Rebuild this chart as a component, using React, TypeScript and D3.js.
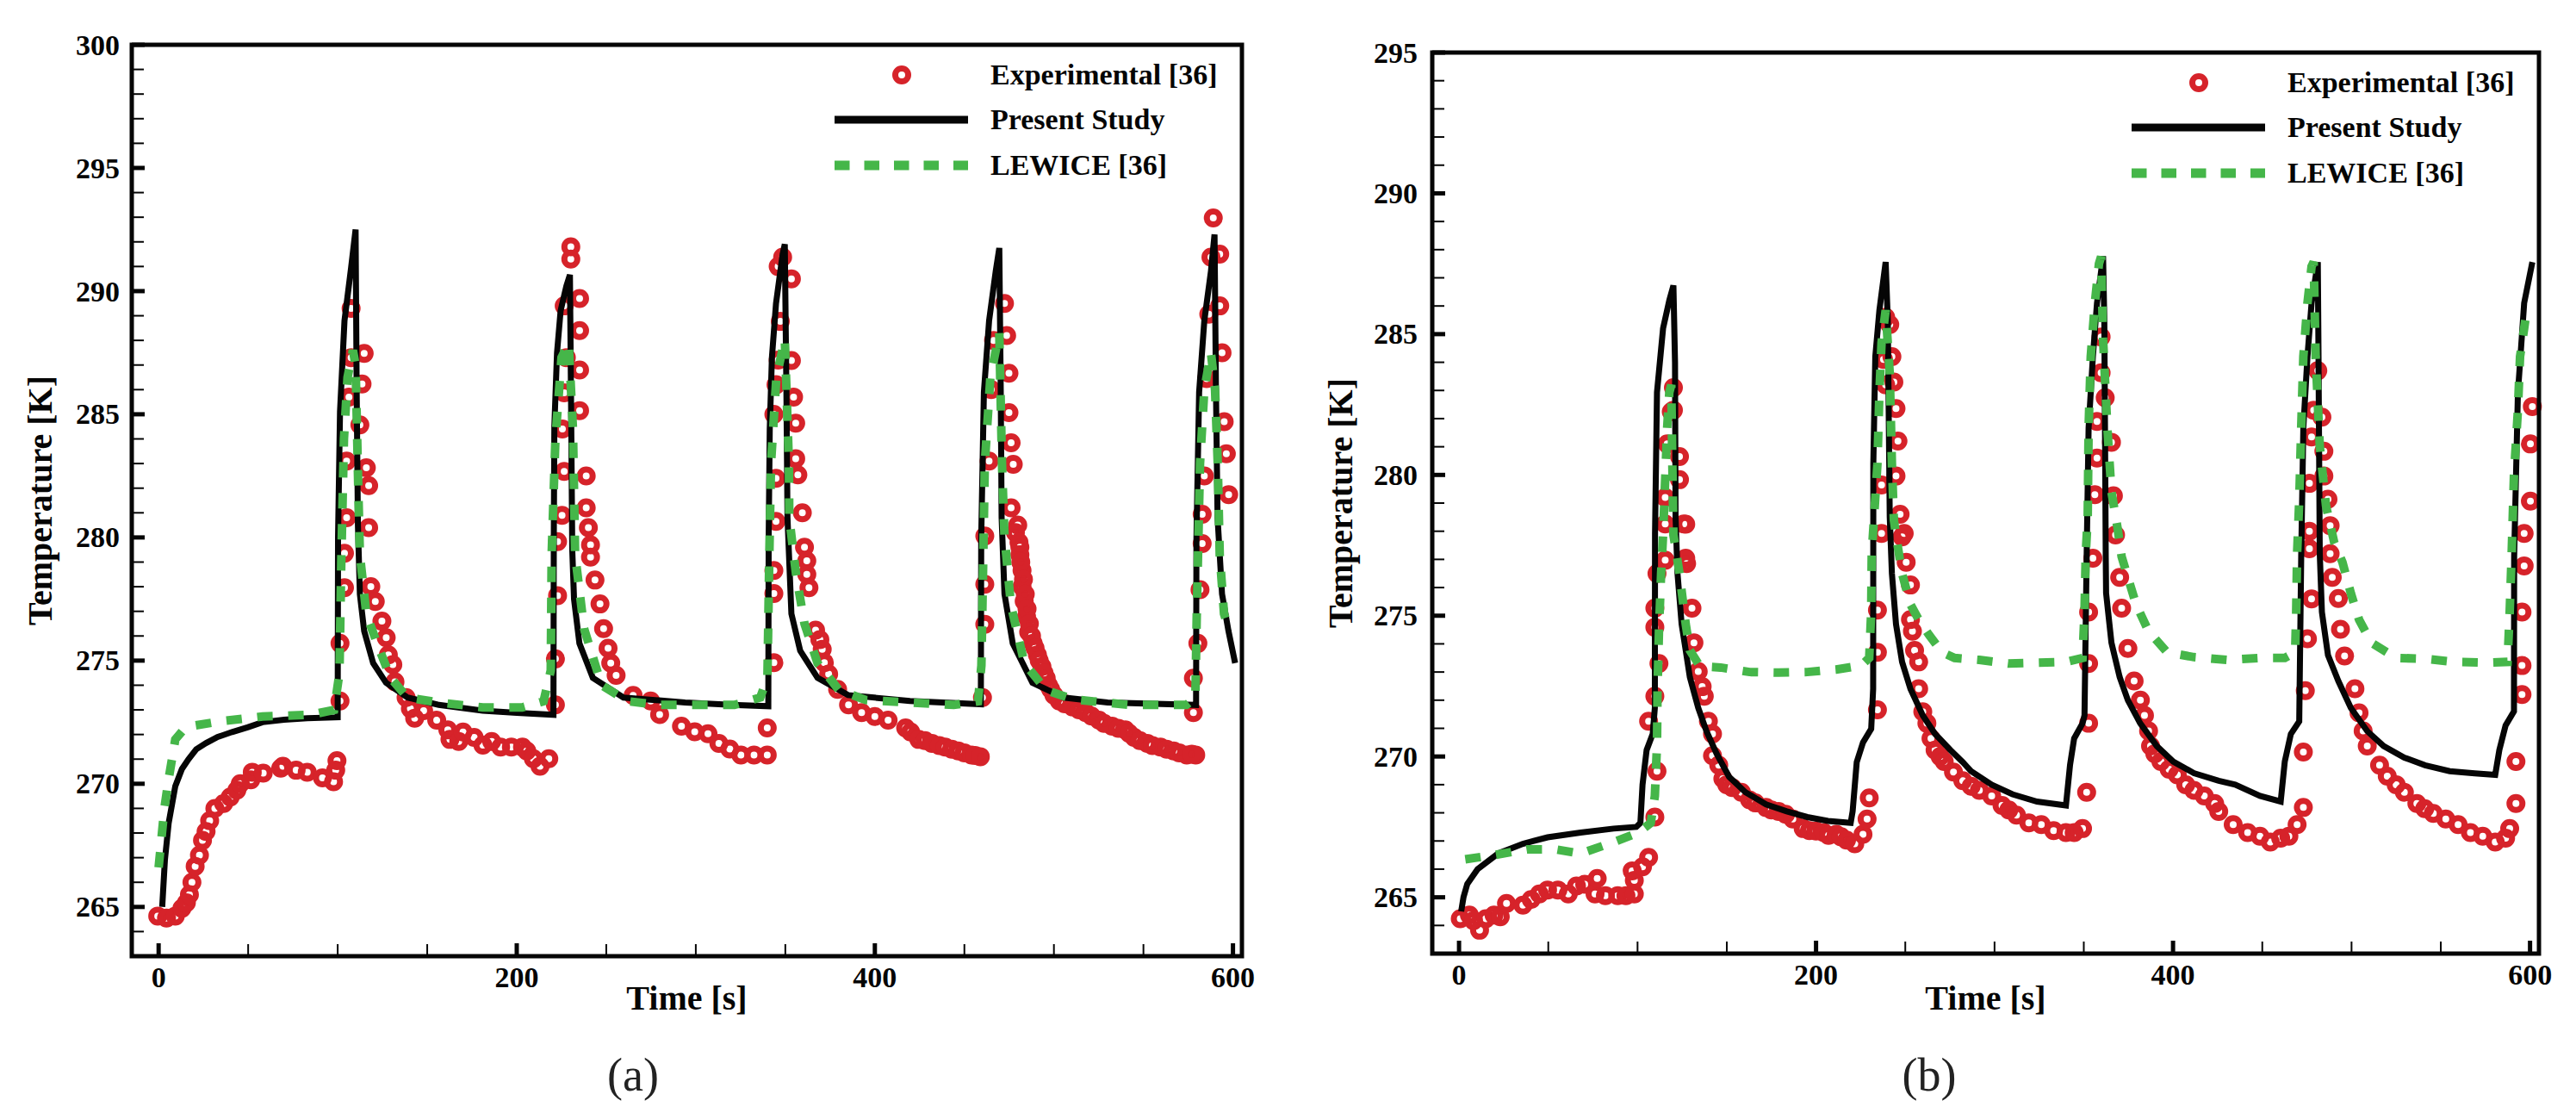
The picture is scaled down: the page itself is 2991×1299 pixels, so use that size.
import { useEffect, useRef } from 'react';
import * as d3 from 'd3';

type Pt = [number, number];

// ---- panel (a) ----
const presentA: Pt[] = [
  [2, 265.0], [3.5, 266.9], [5.6, 268.4], [9.3, 269.9], [13, 270.6], [16.7, 271.0], [21, 271.4], [26.5, 271.65],
  [33, 271.9], [41, 272.1], [50, 272.3], [58, 272.5], [70, 272.6], [83, 272.66], [100, 272.7],
  [100.2, 280.0], [101.3, 285.1], [103.8, 288.8], [107.5, 290.95], [110, 292.5], [110.6, 286], [111.3, 280.5],
  [112.4, 277.7], [114.8, 276.2], [119.8, 274.9], [127, 274.1], [139, 273.5], [156.5, 273.2], [181, 272.97],
  [200, 272.88], [220.5, 272.8],
  [220.7, 280], [221, 284.5], [222.5, 287.5], [224.5, 289.2], [227.7, 290.2], [229.7, 290.66], [230.4, 285],
  [231, 279.5], [232, 277.5], [235, 275.7], [242.5, 274.3], [259.6, 273.5], [294, 273.3], [320, 273.2], [340.5, 273.15],
  [340.7, 280], [341.3, 284.4], [342.5, 287.3], [344.8, 289.5], [348.5, 291.5], [349.7, 291.9], [350.6, 286],
  [351.2, 280.8], [353.4, 276.9], [358.3, 275.4], [368, 274.3], [385, 273.6], [419.6, 273.36], [459.2, 273.23],
  [459.4, 280], [460.9, 285.9], [463.8, 288.8], [467.5, 290.8], [469.5, 291.75], [470.3, 286], [470.8, 280.8],
  [472.4, 277.7], [477, 275.7], [488, 274.1], [505.5, 273.5], [530, 273.3], [579.4, 273.2],
  [579.6, 280], [581.1, 285.9], [584, 288.8], [587.7, 290.8], [589.7, 292.3], [590.5, 286], [591.4, 280.8],
  [593.9, 277.7], [597.5, 276.2], [601.2, 274.9],
];

const lewiceA: Pt[] = [
  [0, 266.6], [3.2, 269.0], [5.6, 270.2], [9.3, 271.8], [14, 272.2], [19, 272.35], [36, 272.55], [58, 272.73],
  [85, 272.8], [98, 273.0], [101, 274.5], [102, 279], [103.5, 284], [105.5, 286.5], [108.5, 287.6], [110, 287],
  [111.5, 282], [112.4, 279.3], [116, 276.9], [122, 275.7], [129.5, 274.3], [139, 273.5], [156.5, 273.3],
  [181, 273.1], [203, 273.1], [215, 273.35], [219, 274.6], [219.5, 279.3], [221.6, 284], [225, 287.3], [229, 287.9],
  [231.4, 284.4], [232.6, 279.3], [237.6, 276.3], [247.4, 274], [262, 273.35], [279, 273.2], [297, 273.2],
  [321.5, 273.2], [336, 273.5], [340, 274.3], [341, 279], [342, 283], [345, 286.5], [349.7, 288.05], [352, 283],
  [352.2, 280.8], [356, 278.5], [360.7, 276.5], [368, 274.9], [380, 273.8], [395, 273.4], [419.6, 273.3],
  [444, 273.2], [457.6, 273.35], [459.5, 274.8], [460.5, 279], [461.4, 283], [464.5, 286.5], [469.5, 288.3],
  [471, 283], [472.4, 280.06], [476, 277.25], [483.5, 274.9], [495.7, 273.8], [510.5, 273.43], [542, 273.2],
  [574, 273.2], [579, 273.5], [579.8, 277], [581.6, 283], [584, 286], [587.7, 287.5], [590, 286], [591.5, 283],
  [592.6, 279.3], [595, 276.9], [596.8, 276.5],
];

const expA: Pt[] = [
  // cycle 1
  [-0.5, 264.63], [4.4, 264.55], [9.3, 264.63], [13, 264.94], [15.5, 265.17], [17.2, 265.5], [18.6, 266.0],
  [20.4, 266.65], [22.8, 267.1], [24.5, 267.7], [26.5, 268.06], [28.5, 268.5], [31.4, 269.0], [36.3, 269.2],
  [40, 269.46], [43.7, 269.74], [45.6, 270.0], [51.5, 270.16], [52.3, 270.47], [58.4, 270.43], [68.2, 270.63],
  [69.4, 270.71], [76.8, 270.55], [83, 270.47], [91.5, 270.24], [97.7, 270.08], [98.9, 270.55], [99.6, 270.94],
  [101.3, 273.36], [101.3, 275.7], [103.8, 277.96], [103.8, 279.36], [105, 280.8], [105, 283.1], [106.3, 285.7],
  [107.5, 287.3], [107.5, 289.3],
  [114.8, 287.47], [113.6, 286.23], [112.4, 284.57], [116, 282.83], [117.3, 282.1], [117.3, 280.4], [118.5, 278.0],
  [121, 277.4], [124.7, 276.6], [127.1, 275.93], [128.3, 275.23], [130.8, 274.84], [132, 274.14], [138.2, 273.5],
  [140.6, 273.05], [143, 272.66], [148, 272.97], [155.3, 272.58], [161.5, 272.19], [162.7, 271.8], [167.6, 271.72],
  [170, 272.1], [176.2, 271.88], [181.1, 271.57], [186, 271.72], [191, 271.49], [197, 271.49], [203.2, 271.49],
  [205.6, 271.33], [209.3, 271.02], [213, 270.71], [217.9, 271.02],
  // cycle 2
  [221.6, 273.2], [221.6, 275.07], [222.8, 277.64], [222.8, 279.83], [225.3, 280.9], [226.5, 282.68],
  [225.5, 284.4], [226.5, 285.87], [227.7, 287.3], [226.5, 289.4],
  [230.2, 291.8], [230.2, 291.3], [235.1, 289.7], [235.1, 288.4], [235.1, 286.8], [235.1, 285.15], [238.8, 282.5],
  [238.8, 281.2], [240, 280.4], [241.2, 279.7], [241.2, 279.2], [243.7, 278.27], [246.5, 277.3], [248.5, 276.3],
  [251, 275.5], [252.5, 274.9], [255.5, 274.4], [265, 273.59], [274.8, 273.36], [279.8, 272.81], [292, 272.34],
  [299.4, 272.11], [306.8, 272.03], [312.9, 271.64], [319, 271.41], [325.2, 271.17], [332.5, 271.17],
  [339.9, 271.17], [339.9, 272.27],
  // cycle 3
  [343.6, 274.92], [343.6, 277.72], [343.6, 278.66], [344.8, 280.65], [344.8, 282.4], [343.6, 285.0],
  [344.8, 286.2], [346, 287.2], [347.2, 288.77], [346, 291.0], [348.5, 291.38],
  [353.4, 290.5], [353.4, 287.18], [354.6, 285.7], [355.8, 284.64], [355.8, 283.2], [357, 282.54], [359.5, 281.0],
  [360.7, 279.6], [362, 279.05], [362, 278.5], [363.2, 277.96], [366.9, 276.24], [369.3, 275.85], [370.6, 275.46],
  [371.8, 274.92], [374.2, 274.45], [379.2, 273.83], [385.3, 273.2], [392.6, 272.89], [400, 272.73],
  [407.4, 272.58], [417.2, 272.27], [420, 272.1], [424.5, 271.8], [428, 271.75], [431.9, 271.64], [436, 271.55],
  [439.3, 271.49], [443, 271.4], [446.6, 271.33], [450, 271.25], [454, 271.17], [456, 271.15], [458.9, 271.1],
  // cycle 4
  [460.1, 273.5], [461.4, 276.47], [461.4, 278.1], [461.4, 280.06], [463.8, 283.1], [465, 286.0], [466.3, 288.0],
  [472.4, 289.5], [473.6, 288.2], [474.9, 286.67], [474.9, 285.07], [476.1, 283.84], [477.3, 282.97],
  [476.1, 281.2], [479.8, 280.5], [481, 279.6], [478.5, 280.2], [481, 279.3], [482.2, 278.66], [482.2, 278.0],
  [483.4, 277.41], [484.7, 276.79], [485.9, 276.16], [488.4, 275.7], [490.8, 275.23], [493.3, 274.76],
  [495.7, 274.29], [498.2, 273.83], [503, 273.36], [510.4, 273.12], [517.8, 272.89], [525.2, 272.58],
  [532.5, 272.34], [539.9, 272.19], [544.8, 271.88], [552.2, 271.64], [559.5, 271.49], [566.9, 271.33],
  [574.2, 271.17], [579.2, 271.17],
  [480.5, 279.8], [481.5, 279.0], [483, 278.3], [484, 277.7], [485, 277.1], [486.3, 276.5], [487.5, 276.0],
  [489.5, 275.5], [491.8, 275.0], [494.5, 274.5], [497, 274.0], [500, 273.6], [506, 273.25], [514, 273.0],
  [521, 272.75], [528, 272.45], [536, 272.25], [542, 272.05], [548, 271.75], [555, 271.55], [563, 271.4],
  [570, 271.25], [577, 271.2],
  // cycle 5
  [577.9, 272.89], [577.9, 274.29], [580.4, 275.7], [581.6, 277.88], [582.8, 279.75], [582.8, 280.94],
  [584, 282.5], [585.3, 286.45], [586.5, 289.06], [587.7, 291.38], [589, 292.97],
  [592.6, 291.5], [592.6, 289.4], [593.9, 287.5], [595.1, 284.7], [596.3, 283.4], [597.6, 281.74],
];

// ---- panel (b) ----
const presentB: Pt[] = [
  [1.2, 264.5], [2.5, 265.0], [4.6, 265.47], [10.4, 266.0], [22, 266.56], [35.8, 266.9], [49.6, 267.13],
  [68.1, 267.3], [86.6, 267.44], [99.3, 267.5], [101.6, 267.64], [102.8, 269.0], [105.1, 270.23], [108.5, 270.8],
  [109.7, 271.73], [109.8, 277.9], [110.9, 282.93], [114.3, 285.2], [117.8, 286.2], [120.1, 286.73], [121, 284],
  [121.2, 280.4], [121.3, 278.5], [122.4, 276.5], [124.7, 274.7], [127, 273.77], [129.3, 272.82], [134, 271.73],
  [138.6, 270.9], [144.3, 270.1], [151.3, 269.28], [160.5, 268.73], [172, 268.3], [183.6, 268.05], [195.1, 267.85],
  [206.7, 267.71], [219.4, 267.64], [220.5, 268.05], [222.8, 269.8], [226.3, 270.5], [230.9, 270.98], [232, 272.4],
  [232.1, 280.4], [233.2, 284.2], [235.5, 285.85], [239, 287.56], [240.2, 285.5], [241, 280.4], [241.3, 278.5],
  [242.5, 276.5], [244.8, 274.7], [248.2, 273.36], [252.9, 272.4], [259.8, 271.46], [266.7, 270.8], [275.3, 270.23],
  [282.2, 269.8], [286.8, 269.48], [298.4, 269.0], [310, 268.66], [323.8, 268.4], [340, 268.26], [342.3, 269.7],
  [344.6, 270.64], [349.3, 271.18], [350.4, 271.46], [351.6, 277.1], [352.7, 281.67], [355.1, 284.2], [357.4, 286.1],
  [360.8, 287.77], [361.5, 285.47], [362, 280.4], [362.3, 277.1], [362.5, 275.8], [365.5, 274.04], [370.1, 272.82],
  [374.7, 272.0], [381.6, 271.18], [390.9, 270.37], [400.1, 269.82], [411.7, 269.41], [425.6, 269.14], [434.8, 269.0],
  [448.7, 268.6], [460.3, 268.4], [462.6, 269.82], [466, 270.8], [470.7, 271.25], [471.8, 277.1], [473, 281.67],
  [475.3, 284.2], [477.6, 286.1], [481.1, 287.56], [481.5, 284.2], [482.2, 277.2], [483.4, 275.13], [486.8, 273.6],
  [492.6, 272.68], [499.6, 271.73], [508.8, 270.9], [518, 270.37], [529.6, 269.96], [541.2, 269.69], [555, 269.48],
  [569, 269.4], [580.5, 269.35], [582.8, 270.23], [586.3, 271.1], [591, 271.6], [591.1, 277.1], [593.2, 282.9],
  [596.7, 286.1], [601.3, 287.56],
];

const lewiceB: Pt[] = [
  [3.5, 266.35], [19.6, 266.5], [38.1, 266.7], [54.3, 266.7], [68.1, 266.55], [86.6, 266.96], [100.5, 267.3],
  [107.4, 267.64], [109.7, 268.6], [110.9, 270.4], [111.2, 272.4], [112, 274.45], [113.2, 276.5], [114.3, 277.86],
  [116.6, 281.67], [117.8, 282.93], [118.9, 283.2], [119.5, 280.4], [120.1, 277.87], [121.2, 277.45], [123.5, 276.5],
  [127, 274.7], [129.3, 273.77], [135, 273.2], [146.6, 273.16], [162.8, 273.0], [179, 272.98], [195.1, 273.0],
  [211.3, 273.09], [225.2, 273.23], [229.8, 273.5], [230.9, 275.13], [231.2, 277.2], [234.4, 280.4], [235.5, 282.93],
  [236.7, 284.7], [239, 285.85], [241.3, 283.6], [242.5, 280.4], [243.6, 278.4], [244.8, 277.86], [248.2, 276.5],
  [252.9, 275.4], [257.5, 274.86], [263.5, 274.3], [270.7, 273.7], [277.6, 273.5], [291.5, 273.43], [307.7, 273.3],
  [323.8, 273.33], [340, 273.36], [349.3, 273.5], [350.4, 275.13], [351.1, 277.2], [352.2, 278.5], [352.7, 281.67],
  [353.9, 284.2], [356.2, 286.1], [358.5, 287.5], [359.7, 287.75], [360.8, 284.83], [363.2, 281.67], [365.5, 279.4],
  [368.9, 278.12], [371.2, 277.1], [374.7, 276.36], [379.3, 275.4], [386.3, 274.45], [396.7, 273.7], [411.7, 273.53],
  [430.2, 273.43], [448.7, 273.5], [462.6, 273.5], [468.4, 273.7], [469, 275.13], [469.5, 277.2], [470.7, 279.1],
  [471.8, 281.67], [473, 284.2], [475.3, 286.1], [477.6, 287.4], [478.8, 287.56], [479.9, 284.2], [482.2, 281.03],
  [485.7, 278.9], [490.3, 277.6], [494.9, 276.9], [499.6, 275.8], [504.2, 274.86], [511.1, 274.04], [525, 273.5],
  [541.2, 273.47], [557.4, 273.36], [575.9, 273.33], [587.4, 273.36], [588.6, 275.13], [589.7, 277.2], [591, 280.0],
  [593.2, 282.3], [594.4, 284.2], [596.7, 285.2], [598, 285.8],
];

const expB: Pt[] = [
  // cycle 1
  [0.7, 264.24], [5.8, 264.37], [8.1, 264.17], [11.5, 263.83], [15, 264.24], [19.6, 264.37], [23.1, 264.31],
  [26.6, 264.78], [35.8, 264.72], [40.4, 264.92], [45, 265.12], [49.6, 265.26], [55.4, 265.26], [61.2, 265.12],
  [65.8, 265.4], [70.4, 265.46], [76.2, 265.12], [77.4, 265.67], [82, 265.06], [88.9, 265.06], [93.5, 265.06],
  [98.2, 265.12], [98.2, 265.6], [97, 265.94], [102.8, 266.08], [106.2, 266.42], [109.7, 267.85], [110.9, 269.48],
  [106.2, 271.25], [109.7, 272.14], [112, 273.3], [109.7, 274.59], [109.7, 275.27], [110.9, 276.5], [115.5, 276.97],
  [115.5, 278.26], [115.5, 279.2], [116.6, 281.1], [118.9, 282.24], [120.1, 283.1], [120.1, 282.3], [123.5, 280.65],
  [123.5, 279.83], [127, 278.25], [127.5, 276.85], [125.9, 278.26], [127, 277.04], [130.5, 275.27], [131.6, 274.04],
  [134, 273.02], [136.2, 272.48], [137.4, 272.14], [139.7, 271.25], [142, 270.8], [142, 270.03], [145.5, 269.69],
  [147.8, 269.21], [150, 269.0], [153, 268.9], [158.2, 268.73], [162.8, 268.46], [166, 268.35], [172, 268.19],
  [175, 268.1], [179, 268.05], [183, 267.95], [187, 267.78], [192.8, 267.44], [196.3, 267.37], [200, 267.35],
  [204.4, 267.3], [207, 267.2], [211.3, 267.24], [214, 267.15], [217.1, 267.03], [221.7, 266.9], [226.3, 267.24],
  [228.6, 267.78], [229.8, 268.53],
  // cycle 2
  [234.4, 271.66], [234.4, 273.7], [234.4, 275.2], [236.7, 277.92], [236.7, 279.64], [237.8, 284.1], [239, 285.6],
  [239, 283.2], [241.3, 285.34], [242.5, 284.2], [243.6, 283.3], [244.8, 282.36], [245.9, 281.2], [244.8, 279.96],
  [247.1, 278.6], [248.2, 277.8], [249.4, 277.92], [250.5, 276.9], [252.9, 276.09], [252.9, 274.86], [254, 274.45],
  [255.2, 273.77], [257.5, 273.36], [257.5, 272.41], [259.8, 271.59], [262.1, 271.18], [264.4, 270.64],
  [266.7, 270.23], [269.5, 270.0], [271.8, 269.82], [277, 269.45], [282.2, 269.14], [286.9, 268.94], [291.5, 268.8],
  [298.4, 268.6], [304.2, 268.26], [308, 268.1], [312.3, 267.92], [319.2, 267.64], [326.2, 267.58], [333.1, 267.37],
  [340, 267.3], [344.6, 267.3], [349.3, 267.44], [351.6, 268.73],
  // cycle 3
  [352.7, 271.18], [352.7, 273.3], [352.7, 275.13], [355.1, 277.04], [356.2, 279.3], [357.4, 280.6],
  [357.4, 281.9], [359.7, 283.63], [359.7, 284.9], [362, 282.74], [365.5, 281.16], [366.6, 279.26], [367.8, 277.87],
  [370.1, 276.36], [371.2, 275.27], [374.7, 273.84], [378.2, 272.68], [381.7, 272.0], [384, 271.46],
  [386.3, 270.91], [387.4, 270.37], [389.8, 270.1], [393.2, 269.82], [397.8, 269.55], [402.4, 269.35],
  [407.1, 269.0], [411.7, 268.8], [417.5, 268.6], [423.3, 268.33], [425.6, 268.05], [433.7, 267.58], [441.8, 267.3],
  [448.7, 267.17], [454.5, 266.96], [460.3, 267.1], [464.9, 267.17], [469.5, 267.58], [473, 268.19],
  // cycle 4
  [473, 270.16], [474.1, 272.34], [475.3, 274.18], [477.6, 275.6], [476.4, 277.38], [476.4, 278.0],
  [476.4, 279.7], [477.6, 281.35], [478.8, 282.3], [481.1, 283.7], [483.4, 282.05], [484.5, 280.84],
  [484.5, 279.96], [486.8, 279.14], [488, 278.2], [488, 277.2], [489.2, 276.36], [492.6, 275.61], [493.8, 274.52],
  [496.1, 273.57], [501.9, 272.41], [504.2, 271.55], [506.5, 270.91], [508.8, 270.37], [515.7, 269.69],
  [520, 269.3], [525, 269.0], [529.6, 268.73], [536.6, 268.33], [541, 268.15], [545.8, 267.98], [552.8, 267.78],
  [559.7, 267.58], [566.6, 267.3], [573.5, 267.17], [580.5, 266.96], [586.3, 267.1], [588.6, 267.44],
  // cycle 5
  [592.1, 268.33], [592.1, 269.82], [595.5, 272.2], [595.5, 273.23], [595.5, 275.13], [596.7, 276.77],
  [596.7, 277.92], [600.2, 279.07], [600.2, 281.1], [601.3, 282.43],
];

const xTicks = [0, 200, 400, 600];
const yTicksA = [265, 270, 275, 280, 285, 290, 295, 300];
const yTicksB = [265, 270, 275, 280, 285, 290, 295];
const legendLabels = ['Experimental [36]', 'Present Study', 'LEWICE [36]'];

const RED = '#d6232a';
const GREEN = '#45b649';
const BLACK = '#050505';
const FONT = '"Liberation Serif", "Times New Roman", serif';

interface PanelSpec {
  left: number;
  right: number;
  top: number;
  bottom: number;
  yDomain: [number, number];
  yTicks: number[];
  present: Pt[];
  lewice: Pt[];
  exp: Pt[];
  tag: string;
  tagX: number;
  yTitleX: number;
  yLabelGap: number;
}

const panels: PanelSpec[] = [
  {
    left: 153, right: 1442, top: 52, bottom: 1110, yDomain: [263, 300], yTicks: yTicksA,
    present: presentA, lewice: lewiceA, exp: expA, tag: '(a)', tagX: 735, yTitleX: 60, yLabelGap: 14,
  },
  {
    left: 1663, right: 2948, top: 61, bottom: 1107, yDomain: [263, 295], yTicks: yTicksB,
    present: presentB, lewice: lewiceB, exp: expB, tag: '(b)', tagX: 2240, yTitleX: 1570, yLabelGap: 17,
  },
];

function drawPanel(svg: d3.Selection<SVGSVGElement, unknown, null, undefined>, p: PanelSpec) {
  const x = d3.scaleLinear().domain([-15, 605]).range([p.left, p.right]);
  const y = d3.scaleLinear().domain(p.yDomain).range([p.bottom, p.top]);
  const g = svg.append('g');

  // Experimental points
  g.append('g')
    .selectAll('circle')
    .data(p.exp)
    .enter()
    .append('circle')
    .attr('cx', d => x(d[0]))
    .attr('cy', d => y(d[1]))
    .attr('r', 7.5)
    .attr('fill', 'none')
    .attr('stroke', RED)
    .attr('stroke-width', 7);

  const line = d3.line<Pt>().x(d => x(d[0])).y(d => y(d[1]));

  // Present study
  g.append('path')
    .attr('d', line(p.present))
    .attr('fill', 'none')
    .attr('stroke', BLACK)
    .attr('stroke-width', 7);

  // LEWICE
  g.append('path')
    .attr('d', line(p.lewice))
    .attr('fill', 'none')
    .attr('stroke', GREEN)
    .attr('stroke-width', 10)
    .attr('stroke-dasharray', '18 18');

  // Frame
  g.append('rect')
    .attr('x', p.left)
    .attr('y', p.top)
    .attr('width', p.right - p.left)
    .attr('height', p.bottom - p.top)
    .attr('fill', 'none')
    .attr('stroke', BLACK)
    .attr('stroke-width', 5);

  // X ticks
  const xMinor = d3.range(0, 601, 50).filter(v => !xTicks.includes(v));
  g.selectAll('.xminor')
    .data(xMinor)
    .enter()
    .append('line')
    .attr('x1', d => x(d)).attr('x2', d => x(d))
    .attr('y1', p.bottom).attr('y2', p.bottom - 14)
    .attr('stroke', BLACK).attr('stroke-width', 2);
  g.selectAll('.xmajor')
    .data(xTicks)
    .enter()
    .append('line')
    .attr('x1', d => x(d)).attr('x2', d => x(d))
    .attr('y1', p.bottom).attr('y2', p.bottom - 15)
    .attr('stroke', BLACK).attr('stroke-width', 5);
  g.selectAll('.xlabel')
    .data(xTicks)
    .enter()
    .append('text')
    .attr('x', d => x(d))
    .attr('y', p.bottom + 36)
    .attr('text-anchor', 'middle')
    .style('font-family', FONT)
    .style('font-weight', 'bold')
    .style('font-size', '34px')
    .style('fill', BLACK)
    .text(d => d);

  // Y ticks
  const yMinor = d3.range(p.yDomain[0] + 1, p.yDomain[1], 1).filter(v => !p.yTicks.includes(v));
  g.selectAll('.yminor')
    .data(yMinor)
    .enter()
    .append('line')
    .attr('x1', p.left).attr('x2', p.left + 14)
    .attr('y1', d => y(d)).attr('y2', d => y(d))
    .attr('stroke', BLACK).attr('stroke-width', 2);
  g.selectAll('.ymajor')
    .data(p.yTicks)
    .enter()
    .append('line')
    .attr('x1', p.left).attr('x2', p.left + 15)
    .attr('y1', d => y(d)).attr('y2', d => y(d))
    .attr('stroke', BLACK).attr('stroke-width', 5);
  g.selectAll('.ylabel')
    .data(p.yTicks)
    .enter()
    .append('text')
    .attr('x', p.left - p.yLabelGap)
    .attr('y', d => y(d))
    .attr('dy', '0.34em')
    .attr('text-anchor', 'end')
    .style('font-family', FONT)
    .style('font-weight', 'bold')
    .style('font-size', '34px')
    .style('fill', BLACK)
    .text(d => d);

  // Axis titles
  g.append('text')
    .attr('x', (p.left + p.right) / 2)
    .attr('y', 1172)
    .attr('text-anchor', 'middle')
    .style('font-family', FONT)
    .style('font-weight', 'bold')
    .style('font-size', '40px')
    .style('fill', BLACK)
    .text('Time [s]');

  g.append('text')
    .attr('transform', `translate(${p.yTitleX},${(p.top + p.bottom) / 2}) rotate(-90)`)
    .attr('text-anchor', 'middle')
    .style('font-family', FONT)
    .style('font-weight', 'bold')
    .style('font-size', '40px')
    .style('fill', BLACK)
    .text('Temperature [K]');

  // Legend
  const lg = g.append('g').attr('transform', `translate(${p.right},${p.top})`);
  const rowY = [35, 87, 140];
  lg.append('circle')
    .attr('cx', -395).attr('cy', rowY[0])
    .attr('r', 7.5)
    .attr('fill', 'none')
    .attr('stroke', RED)
    .attr('stroke-width', 7);
  lg.append('line')
    .attr('x1', -473).attr('x2', -318)
    .attr('y1', rowY[1]).attr('y2', rowY[1])
    .attr('stroke', BLACK).attr('stroke-width', 9);
  lg.append('line')
    .attr('x1', -473).attr('x2', -318)
    .attr('y1', rowY[2]).attr('y2', rowY[2])
    .attr('stroke', GREEN).attr('stroke-width', 11)
    .attr('stroke-dasharray', '17.5 17');
  lg.selectAll('.ltext')
    .data(legendLabels)
    .enter()
    .append('text')
    .attr('x', -292)
    .attr('y', (_d, i) => rowY[i] + 11)
    .style('font-family', FONT)
    .style('font-weight', 'bold')
    .style('font-size', '34px')
    .style('fill', BLACK)
    .text(d => d);

  // Panel tag
  g.append('text')
    .attr('x', p.tagX)
    .attr('y', 1266)
    .attr('text-anchor', 'middle')
    .style('font-family', FONT)
    .style('font-size', '54px')
    .style('fill', '#222')
    .text(p.tag);
}

export default function App() {
  const svgRef = useRef<SVGSVGElement>(null);

  useEffect(() => {
    if (!svgRef.current) return;
    const svg = d3.select(svgRef.current);
    svg.selectAll('*').remove();
    svg.append('rect').attr('width', 2991).attr('height', 1299).attr('fill', '#fff');
    panels.forEach(p => drawPanel(svg, p));
  }, []);

  return (
    <svg
      ref={svgRef}
      width={2991}
      height={1299}
      style={{ position: 'absolute', left: 0, top: 0, display: 'block' }}
    />
  );
}
